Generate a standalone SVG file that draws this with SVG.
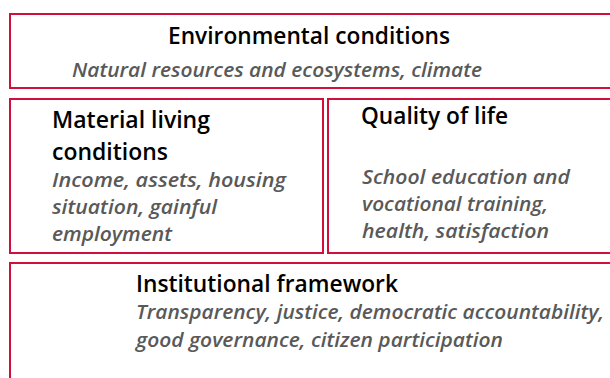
<svg xmlns="http://www.w3.org/2000/svg" width="610" height="378" viewBox="0 0 610 378">
<style>
.box{fill:#fff;stroke:#d0103a;stroke-width:2}
.t{font-family:"Open Sans","Liberation Sans",Arial,sans-serif;font-size:23px;font-weight:600;fill:#000}
.s{font-family:"Open Sans","Liberation Sans",Arial,sans-serif;font-size:20px;font-style:italic;font-weight:600;fill:#595959}
</style>
<rect width="610" height="378" fill="#fff"/>
<g id="environmental">
<rect class="box" x="10" y="14" width="610" height="74"/>
<text class="t" x="168" y="44" textLength="282" lengthAdjust="spacingAndGlyphs">Environmental conditions</text>
<text class="s" x="72" y="77" textLength="410" lengthAdjust="spacingAndGlyphs">Natural resources and ecosystems, climate</text>
</g>
<g id="material">
<rect class="box" x="10" y="99" width="313" height="154"/>
<text class="t" x="52" y="128" textLength="158" lengthAdjust="spacingAndGlyphs">Material living</text>
<text class="t" x="52" y="160" textLength="116" lengthAdjust="spacingAndGlyphs">conditions</text>
<text class="s" x="52" y="187" textLength="234" lengthAdjust="spacingAndGlyphs">Income, assets, housing</text>
<text class="s" x="52" y="214" textLength="165" lengthAdjust="spacingAndGlyphs">situation, gainful</text>
<text class="s" x="52" y="241" textLength="120" lengthAdjust="spacingAndGlyphs">employment</text>
</g>
<g id="quality">
<rect class="box" x="328" y="99" width="300" height="154"/>
<text class="t" x="361" y="124" textLength="147" lengthAdjust="spacingAndGlyphs">Quality of life</text>
<text class="s" x="362" y="184" textLength="208" lengthAdjust="spacingAndGlyphs">School education and</text>
<text class="s" x="362" y="211" textLength="186" lengthAdjust="spacingAndGlyphs">vocational training,</text>
<text class="s" x="362" y="238" textLength="187" lengthAdjust="spacingAndGlyphs">health, satisfaction</text>
</g>
<g id="institutional">
<rect class="box" x="10" y="263" width="610" height="130"/>
<text class="t" x="136" y="292" textLength="262" lengthAdjust="spacingAndGlyphs">Institutional framework</text>
<text class="s" x="136" y="319" textLength="468" lengthAdjust="spacingAndGlyphs">Transparency, justice, democratic accountability,</text>
<text class="s" x="136" y="347" textLength="367" lengthAdjust="spacingAndGlyphs">good governance, citizen participation</text>
</g>
<g id="connectors"/>
</svg>
